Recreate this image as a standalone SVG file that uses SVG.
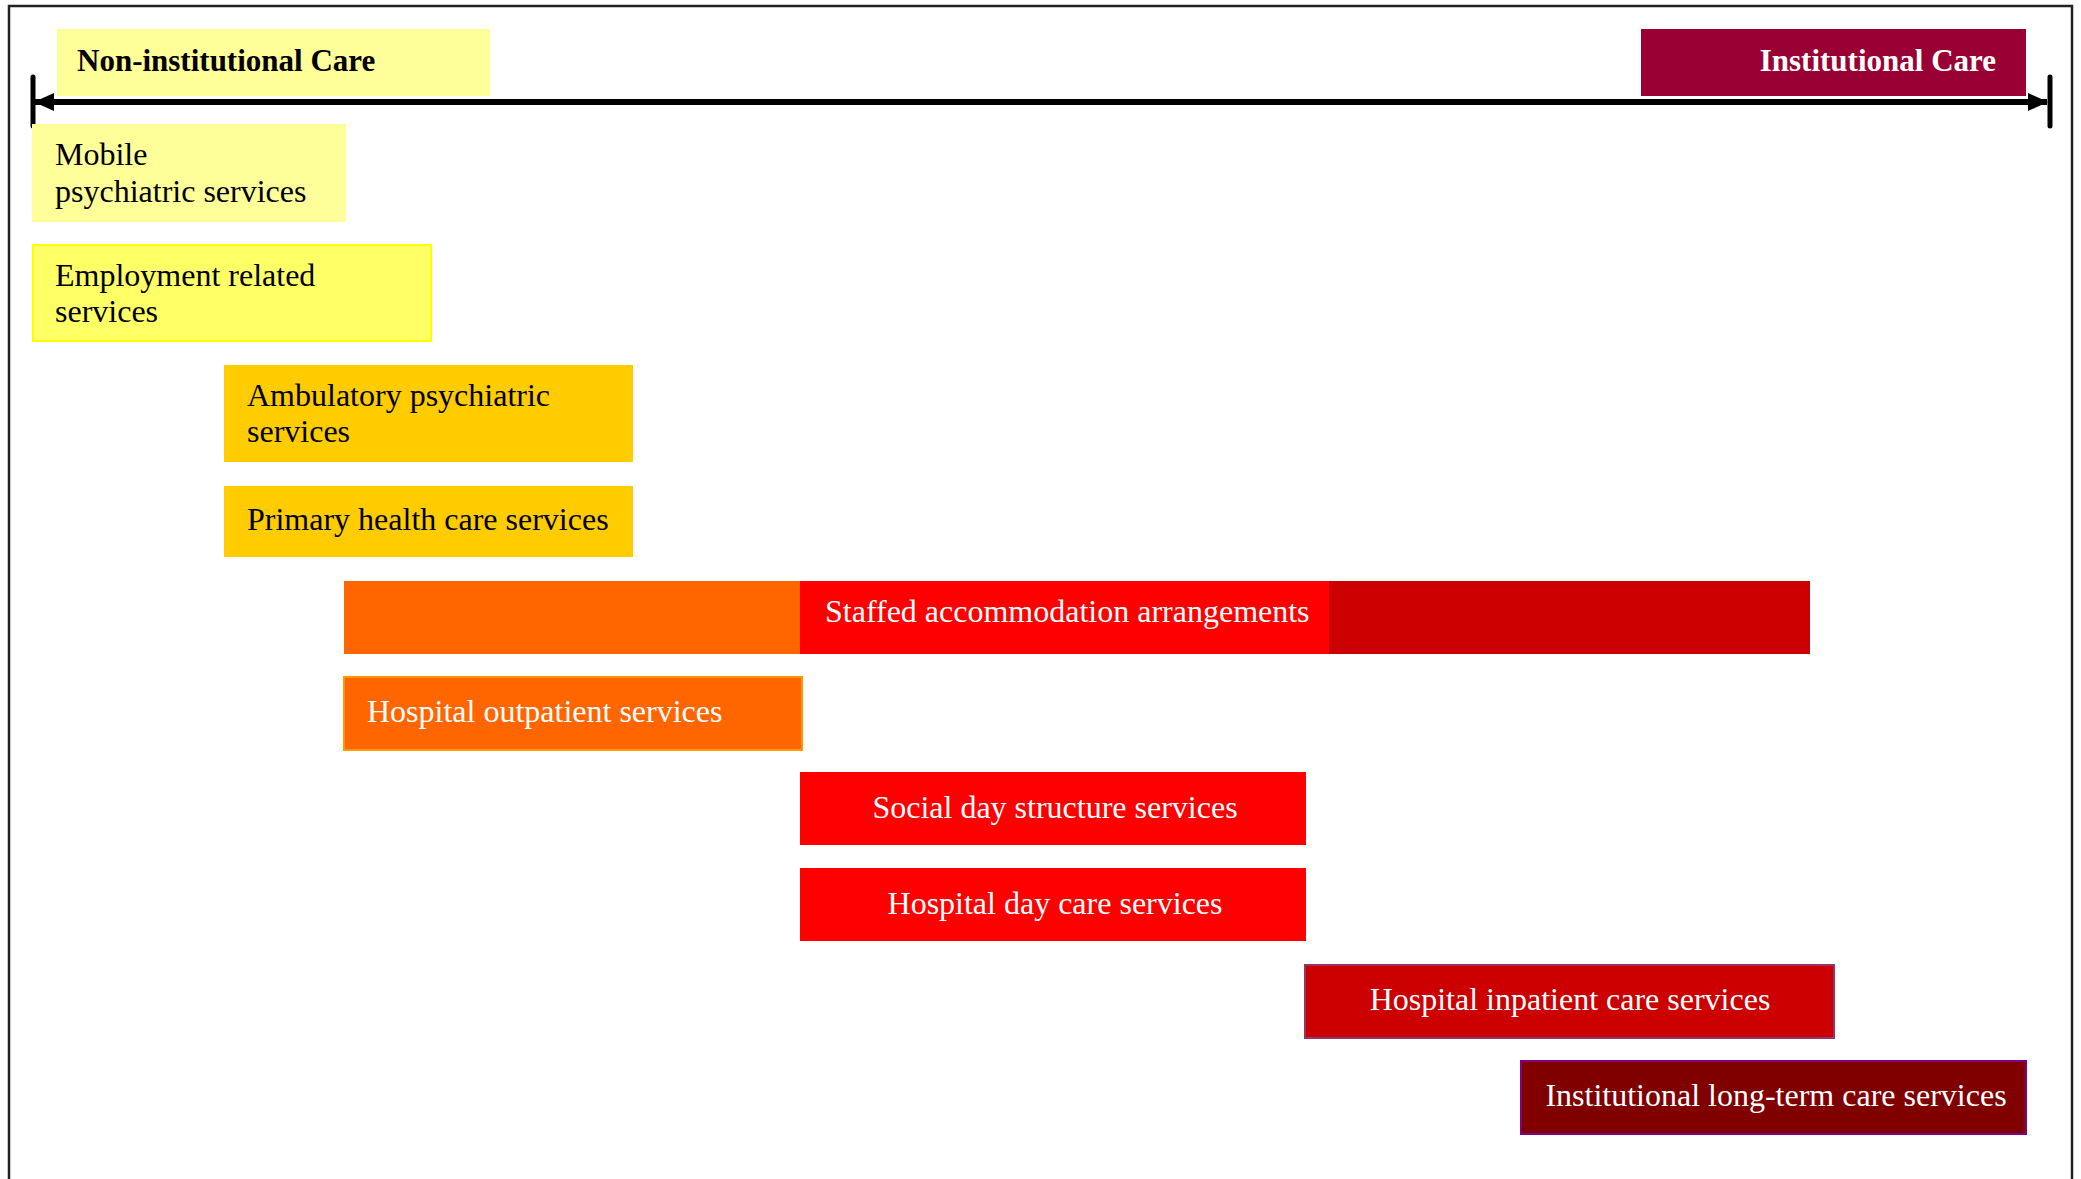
<svg xmlns="http://www.w3.org/2000/svg" width="2081" height="1179" viewBox="0 0 2081 1179">
<style>
  text { font-family: "Liberation Serif", "Times New Roman", serif; font-size: 32px; }
  .dark { fill: #000000; }
  .light { fill: #FFFFFF; }
  .bold { font-weight: bold; font-size: 31px; }
  .mid { text-anchor: middle; }
  .axis { stroke: #000000; stroke-width: 6; fill: none; }
  .tick { stroke: #000000; stroke-width: 5; stroke-linecap: round; }
</style>
<defs>
  <marker id="arrowEnd" viewBox="0 0 20 20" refX="19" refY="10" markerWidth="20" markerHeight="20" markerUnits="userSpaceOnUse" orient="auto">
    <path d="M0,1 L20,10 L0,19 Z" fill="#000000"/>
  </marker>
  <marker id="arrowStart" viewBox="0 0 20 20" refX="1" refY="10" markerWidth="20" markerHeight="20" markerUnits="userSpaceOnUse" orient="auto">
    <path d="M20,1 L0,10 L20,19 Z" fill="#000000"/>
  </marker>
</defs>
<rect x="0" y="0" width="2081" height="1179" fill="#FFFFFF"/>
<rect id="frame" x="9" y="6" width="2063" height="1200" fill="none" stroke="#222222" stroke-width="2.5"/>

<g id="non-institutional-care">
  <rect x="57" y="29" width="433" height="67" fill="#FFFF99"/>
  <text class="dark bold" x="77" y="71">Non-institutional Care</text>
</g>
<g id="institutional-care">
  <rect x="1641" y="29" width="385" height="67" fill="#990033"/>
  <text class="light bold" x="1996" y="71" text-anchor="end">Institutional Care</text>
</g>

<g id="connectors">
  <line class="axis" x1="35" y1="102" x2="2047" y2="102" marker-start="url(#arrowStart)" marker-end="url(#arrowEnd)"/>
  <line class="tick" x1="33" y1="77" x2="33" y2="126"/>
  <line class="tick" x1="2050" y1="77" x2="2050" y2="126"/>
</g>

<g id="mobile-psychiatric-services">
  <rect x="32" y="124" width="314" height="98" fill="#FFFF99"/>
  <text class="dark" x="55" y="165">Mobile</text>
  <text class="dark" x="55" y="202">psychiatric services</text>
</g>
<g id="employment-related-services">
  <rect x="33" y="245" width="398" height="96" fill="#FFFF66" stroke="#FFFF00" stroke-width="2"/>
  <text class="dark" x="55" y="286">Employment related</text>
  <text class="dark" x="55" y="322">services</text>
</g>
<g id="ambulatory-psychiatric-services">
  <rect x="224" y="365" width="409" height="97" fill="#FFCC00"/>
  <text class="dark" x="247" y="406">Ambulatory psychiatric</text>
  <text class="dark" x="247" y="442">services</text>
</g>
<g id="primary-health-care-services">
  <rect x="224" y="486" width="409" height="71" fill="#FFCC00"/>
  <text class="dark" x="247" y="530">Primary health care services</text>
</g>
<g id="staffed-accommodation-arrangements">
  <rect x="344" y="581" width="456" height="73" fill="#FF6600"/>
  <rect x="800" y="581" width="529" height="73" fill="#FF0000"/>
  <rect x="1329" y="581" width="481" height="73" fill="#CC0000"/>
  <text class="light" x="825" y="622">Staffed accommodation arrangements</text>
</g>
<g id="hospital-outpatient-services">
  <rect x="344" y="677" width="458" height="73" fill="#FF6600" stroke="#FF9900" stroke-width="2"/>
  <text class="light" x="367" y="722">Hospital outpatient services</text>
</g>
<g id="social-day-structure-services">
  <rect x="800" y="772" width="506" height="73" fill="#FF0000"/>
  <text class="light mid" x="1055" y="818">Social day structure services</text>
</g>
<g id="hospital-day-care-services">
  <rect x="800" y="868" width="506" height="73" fill="#FF0000"/>
  <text class="light mid" x="1055" y="914">Hospital day care services</text>
</g>
<g id="hospital-inpatient-care-services">
  <rect x="1305" y="965" width="529" height="73" fill="#CC0000" stroke="#993366" stroke-width="2"/>
  <text class="light mid" x="1570" y="1010">Hospital inpatient care services</text>
</g>
<g id="institutional-long-term-care-services">
  <rect x="1521" y="1061" width="505" height="73" fill="#800000" stroke="#800080" stroke-width="2"/>
  <text class="light mid" x="1776" y="1106">Institutional long-term care services</text>
</g>
</svg>
